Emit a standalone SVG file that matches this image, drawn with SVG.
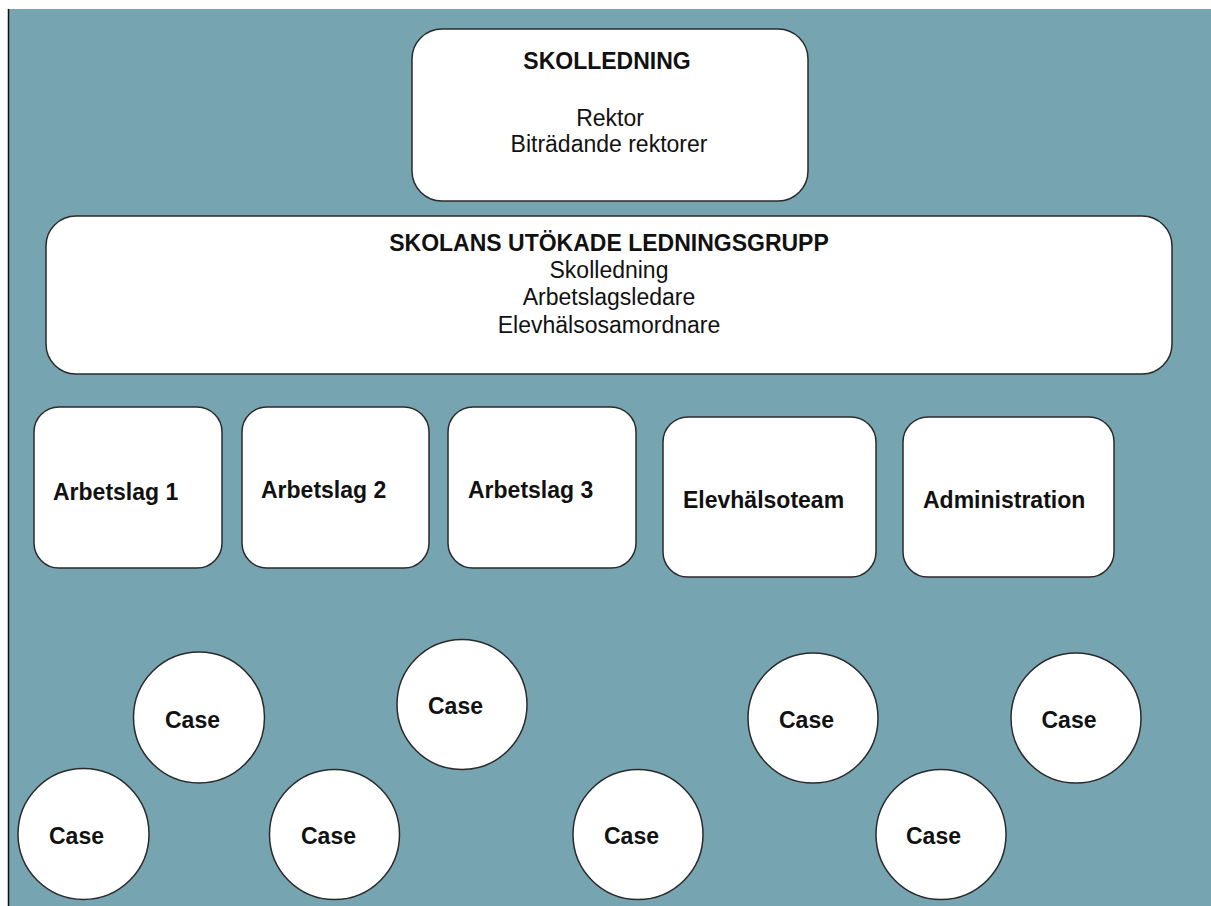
<svg xmlns="http://www.w3.org/2000/svg" width="1211" height="906" viewBox="0 0 1211 906">
<style>
.bg{fill:#76a5b1}
.box{fill:#ffffff;stroke:#2a2a2a;stroke-width:1.5}
.t{font-family:"Liberation Sans",Arial,sans-serif;font-size:23px;fill:#111}
.b{font-weight:bold}
.c{text-anchor:middle}
</style>
<rect x="0" y="0" width="1211" height="906" fill="#ffffff"/>
<rect class="bg" x="9" y="9" width="1202" height="897"/>
<line x1="8.5" y1="9" x2="8.5" y2="906" stroke="#111" stroke-width="1.5"/>
<g id="skolledning">
<rect class="box" x="412" y="29" width="396" height="172" rx="30" ry="30"/>
<text class="t b c" x="607" y="69">SKOLLEDNING</text>
<text class="t c" x="610" y="126">Rektor</text>
<text class="t c" x="609" y="152">Biträdande rektorer</text>
</g>
<g id="ledningsgrupp">
<rect class="box" x="46" y="216" width="1126" height="158" rx="30" ry="30"/>
<text class="t b c" x="609" y="251">SKOLANS UTÖKADE LEDNINGSGRUPP</text>
<text class="t c" x="609" y="278">Skolledning</text>
<text class="t c" x="609" y="305">Arbetslagsledare</text>
<text class="t c" x="609" y="333">Elevhälsosamordnare</text>
</g>
<g id="arbetslag1">
<rect class="box" x="34" y="407" width="188" height="161" rx="25" ry="25"/>
<text class="t b" x="53" y="500">Arbetslag 1</text>
</g>
<g id="arbetslag2">
<rect class="box" x="242" y="407" width="187" height="161" rx="25" ry="25"/>
<text class="t b" x="261" y="498">Arbetslag 2</text>
</g>
<g id="arbetslag3">
<rect class="box" x="448" y="407" width="188" height="161" rx="25" ry="25"/>
<text class="t b" x="468" y="498">Arbetslag 3</text>
</g>
<g id="elevhalsoteam">
<rect class="box" x="663" y="417" width="213" height="160" rx="25" ry="25"/>
<text class="t b" x="683" y="508">Elevhälsoteam</text>
</g>
<g id="administration">
<rect class="box" x="903" y="417" width="211" height="160" rx="25" ry="25"/>
<text class="t b" x="923" y="508">Administration</text>
</g>
<g id="case1">
<circle class="box" cx="199" cy="717.5" r="65.5"/>
<text class="t b c" x="192.5" y="728">Case</text>
</g>
<g id="case2">
<circle class="box" cx="462" cy="704.5" r="65"/>
<text class="t b c" x="455.5" y="714">Case</text>
</g>
<g id="case3">
<circle class="box" cx="813" cy="718" r="65"/>
<text class="t b c" x="806.5" y="728">Case</text>
</g>
<g id="case4">
<circle class="box" cx="1076" cy="718" r="65"/>
<text class="t b c" x="1069" y="728">Case</text>
</g>
<g id="case5">
<circle class="box" cx="83.5" cy="834" r="65.5"/>
<text class="t b c" x="76.5" y="844">Case</text>
</g>
<g id="case6">
<circle class="box" cx="334.5" cy="834.5" r="65"/>
<text class="t b c" x="328.5" y="844">Case</text>
</g>
<g id="case7">
<circle class="box" cx="638" cy="834.5" r="65"/>
<text class="t b c" x="631.5" y="844">Case</text>
</g>
<g id="case8">
<circle class="box" cx="941" cy="834.5" r="65"/>
<text class="t b c" x="933.5" y="844">Case</text>
</g>
<g id="connectors"></g>
</svg>
